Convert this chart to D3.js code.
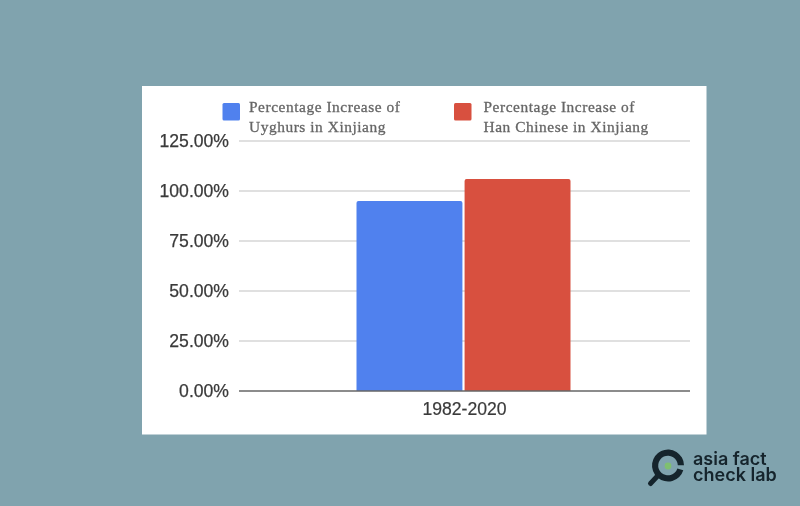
<!DOCTYPE html>
<html>
<head>
<meta charset="utf-8">
<script src="https://cdnjs.cloudflare.com/ajax/libs/d3/7.8.5/d3.min.js"></script>
<style>
html,body{margin:0;padding:0;background:#80a3ae;overflow:hidden}
svg{display:block;filter:blur(0.35px)}
</style>
</head>
<body>
<svg id="c" width="800" height="506"></svg>
<script>
const categories = ["1982-2020"];
const seriesNames = [
  ["Percentage Increase of", "Uyghurs in Xinjiang"],
  ["Percentage Increase of", "Han Chinese in Xinjiang"]
];
const seriesValues = [95, 106];
const seriesColors = ["#5081ee", "#d8503f"];
const tickValues = [0, 25, 50, 75, 100, 125];
const tickLabels = ["0.00%", "25.00%", "50.00%", "75.00%", "100.00%", "125.00%"];

const svg = d3.select("#c");
svg.append("rect").attr("width",800).attr("height",506).attr("fill","#80a3ae");
svg.append("rect").attr("x",142).attr("y",86).attr("width",564.5).attr("height",348.5).attr("fill","#ffffff");

const y = d3.scaleLinear().domain([0,125]).range([391,141]);
const x0 = d3.scaleBand().domain(categories).range([239,690]);
const x1 = d3.scaleBand().domain([0,1]).range([356.5,570.5]).paddingInner(0.02);

const g = svg.append("g");
g.selectAll("line.grid").data(tickValues.filter(d=>d>0)).join("line")
  .attr("class","grid")
  .attr("x1",239).attr("x2",690)
  .attr("y1",d=>y(d)).attr("y2",d=>y(d))
  .attr("stroke","#e0e0e0").attr("stroke-width",2);

const sans = "'Liberation Sans', Arial, sans-serif";
g.selectAll("text.yl").data(tickValues).join("text")
  .attr("class","yl")
  .attr("x",229).attr("y",d=>y(d)+6)
  .attr("text-anchor","end")
  .attr("font-family",sans).attr("font-size",17.6)
  .attr("fill","#3a3a3a").attr("stroke","#3a3a3a").attr("stroke-width",0.25)
  .text((d,i)=>tickLabels[i]);

g.selectAll("path.bar").data(seriesValues).join("path")
  .attr("class","bar")
  .attr("fill",(d,i)=>seriesColors[i])
  .attr("d",(d,i)=>{
    const l=x1(i), w=x1.bandwidth(), t=y(d), b=y(0), r=2;
    return `M${l},${b}V${t+r}Q${l},${t} ${l+r},${t}H${l+w-r}Q${l+w},${t} ${l+w},${t+r}V${b}Z`;
  });

g.append("line").attr("x1",239).attr("x2",690).attr("y1",y(0)).attr("y2",y(0))
  .attr("stroke","#666666").attr("stroke-width",1.6);

g.selectAll("text.xl").data(categories).join("text")
  .attr("class","xl")
  .attr("x",d=>x0(d)+x0.bandwidth()/2).attr("y",415)
  .attr("text-anchor","middle")
  .attr("font-family",sans).attr("font-size",17.6)
  .attr("fill","#3a3a3a").attr("stroke","#3a3a3a").attr("stroke-width",0.2)
  .text(d=>d);

const legendX = [[222.5,249],[454,483.5]];
seriesNames.forEach((lines,i)=>{
  svg.append("rect")
    .attr("x",legendX[i][0]).attr("y",103)
    .attr("width",17.5).attr("height",17.5).attr("rx",1.5)
    .attr("fill",seriesColors[i]);
  lines.forEach((t,j)=>{
    svg.append("text")
      .attr("x",legendX[i][1]).attr("y",112+j*20)
      .attr("font-family","'Liberation Serif', serif")
      .attr("font-size",15.4).attr("letter-spacing",0.55)
      .attr("fill","#666666")
      .attr("stroke","#666666").attr("stroke-width",0.3)
      .text(t);
  });
});

const logo = svg.append("g");
const dark = "#15242c";
logo.append("path")
  .attr("d", d3.arc()({innerRadius:9.8,outerRadius:16,startAngle:0.5*Math.PI+0.3,endAngle:2.5*Math.PI-0.02}))
  .attr("transform","translate(668,465.5)").attr("fill",dark);
logo.append("line").attr("x1",658).attr("y1",475.5).attr("x2",650.5).attr("y2",483.5)
  .attr("stroke",dark).attr("stroke-width",5).attr("stroke-linecap","round");
logo.append("circle").attr("cx",668).attr("cy",466).attr("r",3.4).attr("fill","#7fc06f");
["asia fact","check lab"].forEach((t,i)=>{
  logo.append("text").attr("x",693).attr("y",464.5+i*16.5)
    .attr("font-family","Inter, Lato, sans-serif").attr("font-weight",600)
    .attr("font-size",18).attr("fill",dark).text(t);
});
</script>
</body>
</html>
